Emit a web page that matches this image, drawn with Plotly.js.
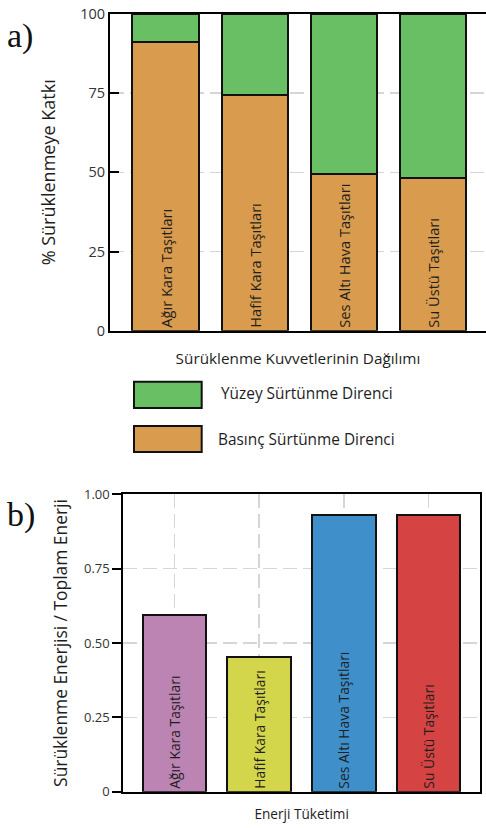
<!DOCTYPE html>
<html>
<head>
<meta charset="utf-8">
<script src="https://cdn.plot.ly/plotly-3.0.1.min.js"></script>
<style>html,body{margin:0;padding:0;background:#fff;}#chart{width:486px;height:828px;}</style>
</head>
<body>
<div id="chart"></div>
<script>
// ---- data ----
const categories = ['Ağır Kara Taşıtları', 'Hafif Kara Taşıtları', 'Ses Altı Hava Taşıtları', 'Su Üstü Taşıtları'];
const pressureDrag = [91, 74.5, 49.5, 48.3];   // Basınç Sürtünme Direnci (%)
const frictionDrag = [9, 25.5, 50.5, 51.7];    // Yüzey Sürtünme Direnci (%)
const energyRatio = [0.595, 0.452, 0.93, 0.93]; // Sürüklenme Enerjisi / Toplam Enerji
const pctTickVals = [0, 25, 50, 75, 100];
const pctTickText = ['0', '25', '50', '75', '100'];
const ratioTickVals = [0, 0.25, 0.5, 0.75, 1];
const ratioTickText = ['0', '0.25', '0.50', '0.75', '1.00'];

// ---- style ----
const FONT = 'Open Sans, Noto Sans, sans-serif';
const GREEN = '#69BF63';
const ORANGE = '#D99B4D';
const ENERGY_COLORS = ['#BC84B3', '#D3D54A', '#3E8FCA', '#D64343'];
const GRID = '#d6d6d6';
const TXT = '#1e1e1e';

const traces = [
  {
    type: 'bar', name: 'Basınç Sürtünme Direnci', x: categories, y: pressureDrag,
    xaxis: 'x', yaxis: 'y', width: 0.745,
    marker: {color: ORANGE, line: {color: '#111', width: 2}},
    text: categories, textposition: 'inside', insidetextanchor: 'start',
    textangle: -90, constraintext: 'none',
    textfont: {family: FONT, size: 14.6, color: TXT},
    hoverinfo: 'skip', showlegend: false
  },
  {
    type: 'bar', name: 'Yüzey Sürtünme Direnci', x: categories, y: frictionDrag,
    xaxis: 'x', yaxis: 'y', width: 0.745,
    marker: {color: GREEN, line: {color: '#111', width: 2}},
    hoverinfo: 'skip', showlegend: false
  },
  {
    type: 'bar', name: 'Enerji Tüketimi', x: categories, y: energyRatio,
    xaxis: 'x2', yaxis: 'y2', width: 0.75,
    marker: {color: ENERGY_COLORS, line: {color: '#111', width: 2}},
    text: categories, textposition: 'inside', insidetextanchor: 'start',
    textangle: -90, constraintext: 'none',
    textfont: {family: FONT, size: 13.9, color: TXT},
    hoverinfo: 'skip', showlegend: false
  }
];

const layout = {
  width: 486, height: 828,
  margin: {l: 0, r: 0, t: 0, b: 0},
  paper_bgcolor: '#fff', plot_bgcolor: '#fff',
  barmode: 'stack',
  showlegend: false,
  font: {family: FONT, color: TXT},
  xaxis: {
    domain: [0.2263, 1], anchor: 'y', type: 'category', range: [-0.624, 3.594],
    showticklabels: false, ticks: '', showgrid: false, zeroline: false,
    showline: true, linecolor: '#000', linewidth: 2, mirror: true,
    automargin: false,
    title: {text: 'Sürüklenme Kuvvetlerinin Dağılımı', font: {family: FONT, size: 15.3, color: TXT}, standoff: 22}
  },
  yaxis: {
    domain: [0.6006, 0.9831], anchor: 'x', range: [0, 100],
    tickvals: pctTickVals, ticktext: pctTickText,
    ticks: 'inside', ticklen: 9, tickwidth: 2, tickcolor: '#000',
    tickfont: {family: FONT, size: 14.5, color: '#333'},
    showgrid: true, gridcolor: GRID, gridwidth: 1.5, griddash: '14px,6px',
    zeroline: false, showline: true, linecolor: '#000', linewidth: 2, mirror: false,
    automargin: false,
    title: {text: '% Sürüklenmeye Katkı', font: {family: FONT, size: 18, color: TXT}, standoff: 20}
  },
  xaxis2: {
    domain: [0.2537, 0.9877], anchor: 'y2', type: 'category', range: [-0.606, 3.609],
    showticklabels: false, ticks: '',
    showgrid: true, gridcolor: GRID, gridwidth: 1.5, griddash: '14px,6px',
    zeroline: false, showline: true, linecolor: '#000', linewidth: 2, mirror: true,
    automargin: false,
    title: {text: 'Enerji Tüketimi', font: {family: FONT, size: 13.6, color: TXT}, standoff: 17}
  },
  yaxis2: {
    domain: [0.0438, 0.403], anchor: 'x2', range: [0, 1],
    tickvals: ratioTickVals, ticktext: ratioTickText,
    ticks: 'outside', ticklen: 9, tickwidth: 2, tickcolor: '#000',
    tickfont: {family: FONT, size: 13, color: '#333'},
    showgrid: true, gridcolor: GRID, gridwidth: 1.5, griddash: '14px,6px',
    zeroline: false, showline: true, linecolor: '#000', linewidth: 2, mirror: true,
    automargin: false,
    title: {text: 'Sürüklenme Enerjisi / Toplam Enerji', font: {family: FONT, size: 17.4, color: TXT}, standoff: 12}
  },
  shapes: [
    {type: 'rect', xref: 'paper', yref: 'paper', x0: 0.2757, x1: 0.415, y0: 0.5072, y1: 0.539,
     fillcolor: GREEN, line: {color: '#111', width: 2}},
    {type: 'rect', xref: 'paper', yref: 'paper', x0: 0.2757, x1: 0.415, y0: 0.4541, y1: 0.4855,
     fillcolor: ORANGE, line: {color: '#111', width: 2}}
  ],
  annotations: [
    {text: 'Yüzey Sürtünme Direnci', xref: 'paper', yref: 'paper', x: 0.4505, y: 0.5242,
     xanchor: 'left', yanchor: 'middle', showarrow: false, font: {family: FONT, size: 15.4, color: TXT}},
    {text: 'Basınç Sürtünme Direnci', xref: 'paper', yref: 'paper', x: 0.4444, y: 0.4698,
     xanchor: 'left', yanchor: 'middle', showarrow: false, font: {family: FONT, size: 15.4, color: TXT}},
    {text: 'a)', xref: 'paper', yref: 'paper', x: 0.01, y: 0.957,
     xanchor: 'left', yanchor: 'middle', showarrow: false, font: {family: 'Liberation Serif, serif', size: 34, color: '#111'}},
    {text: 'b)', xref: 'paper', yref: 'paper', x: 0.01, y: 0.378,
     xanchor: 'left', yanchor: 'middle', showarrow: false, font: {family: 'Liberation Serif, serif', size: 34, color: '#111'}}
  ]
};

Plotly.newPlot('chart', traces, layout, {staticPlot: true, displayModeBar: false});
</script>
</body>
</html>
